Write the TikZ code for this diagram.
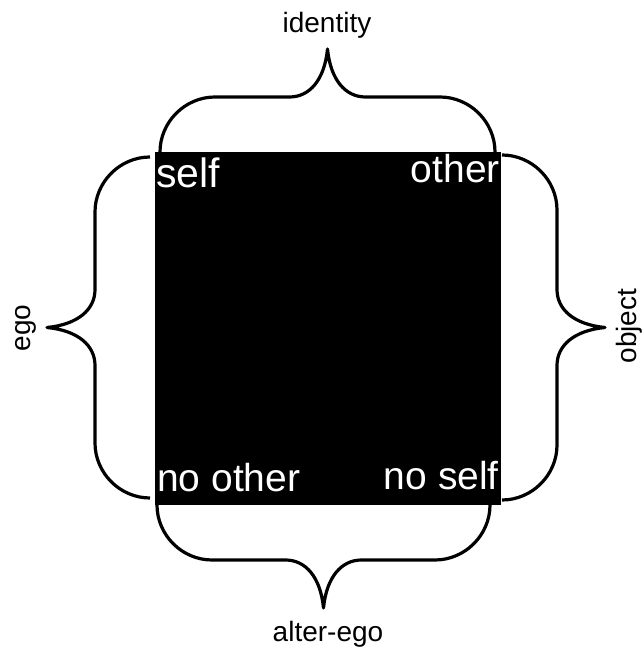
\documentclass[tikz,border=0pt]{standalone}
\usepackage{fontspec}
\setmainfont{Liberation Sans}
\tikzset{
  curly/.pic={
    \draw[line width=3.2pt, line join=round]
      (0,0) .. controls (0,30) and (25,55) .. (55,55)
      -- ({#1/2-38},55) .. controls ({#1/2-18},55) and ({#1/2-3},72) .. ({#1/2},103)
      .. controls ({#1/2+3},72) and ({#1/2+18},55) .. ({#1/2+38},55)
      -- ({#1-55},55) .. controls ({#1-25},55) and (#1,30) .. (#1,0);
  },
  outlabel/.style={font=\fontsize{28}{30}\selectfont, inner sep=0pt},
  inlabel/.style={font=\fontsize{39}{42}\selectfont, text=white, inner sep=0pt}
}

\begin{document}
\begin{tikzpicture}[x=1pt,y=1pt]
  \useasboundingbox (0,0) rectangle (642,648);
  \node[fill=black, inner sep=0pt, minimum width=346pt, minimum height=353pt] (sq) at (328,319.5) {};
  % corner words
  \node[inlabel, anchor=base west, font=\fontsize{41}{44}\selectfont] (self) at (156,460) {self};
  \node[inlabel, anchor=base east] (other) at (500,465) {other};
  \node[inlabel, anchor=base west] (noother) at (157,156) {no other};
  \node[inlabel, anchor=base east] (noself) at (499,158) {no self};
  % braces
  \pic at (160,496) {curly=335};              % top
  \pic[rotate=90] at (150,150) {curly=341};   % left
  \pic[rotate=-90] at (502,493) {curly=345};  % right
  \pic[rotate=180] at (490,143) {curly=333};  % bottom
  % outer words
  \node[outlabel, anchor=base] (identity) at (327,615) {identity};
  \node[outlabel, anchor=base, rotate=90] (ego) at (30,320) {ego};
  \node[outlabel, anchor=base, rotate=90] (object) at (636,322) {object};
  \node[outlabel, anchor=base] (alterego) at (328,6) {alter-ego};
\end{tikzpicture}
\end{document}
